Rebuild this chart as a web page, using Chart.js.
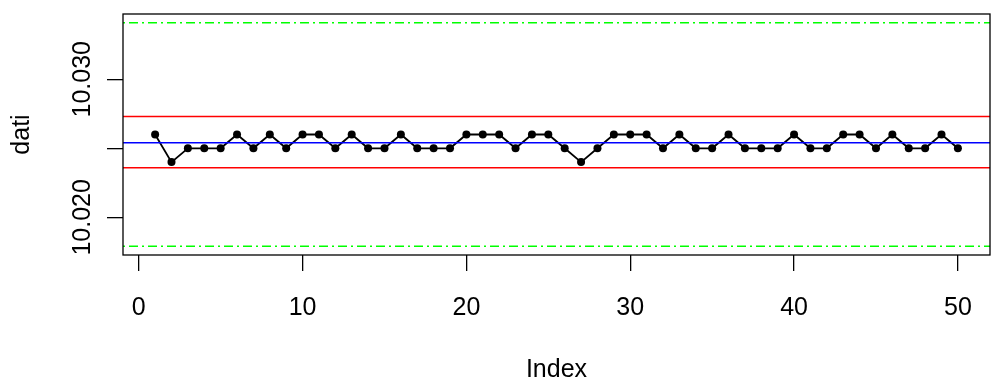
<!DOCTYPE html>
<html>
<head>
<meta charset="utf-8">
<script src="https://cdn.jsdelivr.net/npm/chart.js@4/dist/chart.umd.min.js"></script>
<style>
  html, body { margin: 0; padding: 0; background: #fff; }
  #wrap { width: 994px; height: 383px; position: relative; }
</style>
</head>
<body>
<div id="wrap"><canvas id="chart"></canvas></div>
<script>
// measurements, one per sample index
const dati = [
  10.026, 10.024, 10.025, 10.025, 10.025, 10.026, 10.025, 10.026, 10.025, 10.026,
  10.026, 10.025, 10.026, 10.025, 10.025, 10.026, 10.025, 10.025, 10.025, 10.026,
  10.026, 10.026, 10.025, 10.026, 10.026, 10.025, 10.024, 10.025, 10.026, 10.026,
  10.026, 10.025, 10.026, 10.025, 10.025, 10.026, 10.025, 10.025, 10.025, 10.026,
  10.025, 10.025, 10.026, 10.026, 10.025, 10.026, 10.025, 10.025, 10.026, 10.025
];
const centerLine = 10.0254;
const controlLimits = [10.0273, 10.0236];
const specLimits = [10.0341, 10.0179];

const xTicks = [0, 10, 20, 30, 40, 50];
const yTicks = [10.020, 10.025, 10.030];
// middle label is skipped (no room between the other two)
const yTickLabels = ['10.020', '', '10.030'];

const xMin = -0.96, xMax = 51.96;
const yMin = 10.01727, yMax = 10.03473;

const FONT = '25px "Liberation Sans", Arial, sans-serif';

function hline(value, color, dash) {
  return {
    data: [{ x: xMin, y: value }, { x: xMax, y: value }],
    borderColor: color,
    borderWidth: 1.5,
    borderDash: dash || [],
    pointRadius: 0,
    showLine: true,
    order: 0
  };
}

// box, rotated y labels and axis titles
const frame = {
  id: 'frame',
  afterDraw(chart) {
    const ctx = chart.ctx;
    const a = chart.chartArea;
    const xs = chart.scales.x, ys = chart.scales.y;
    ctx.save();
    ctx.strokeStyle = '#000';
    ctx.lineWidth = 1.3;
    ctx.strokeRect(a.left, a.top, a.right - a.left, a.bottom - a.top);

    ctx.fillStyle = '#000';
    ctx.font = FONT;
    ctx.textAlign = 'center';
    ctx.textBaseline = 'middle';
    xTicks.forEach(v => ctx.fillText(String(v), xs.getPixelForValue(v), 308));
    ctx.fillText('Index', (a.left + a.right) / 2, 370);

    yTicks.forEach((v, i) => {
      if (!yTickLabels[i]) return;
      ctx.save();
      ctx.translate(83, ys.getPixelForValue(v));
      ctx.rotate(-Math.PI / 2);
      ctx.fillText(yTickLabels[i], 0, 0);
      ctx.restore();
    });
    ctx.save();
    ctx.translate(22, (a.top + a.bottom) / 2);
    ctx.rotate(-Math.PI / 2);
    ctx.fillText('dati', 0, 0);
    ctx.restore();
    ctx.restore();
  }
};

new Chart(document.getElementById('chart'), {
  type: 'scatter',
  data: {
    datasets: [
      {
        data: dati.map((v, i) => ({ x: i + 1, y: v })),
        borderColor: '#000',
        backgroundColor: '#000',
        borderWidth: 1.8,
        pointRadius: 4,
        pointBorderWidth: 0,
        showLine: true,
        order: 1
      },
      hline(centerLine, '#0000ff'),
      hline(controlLimits[0], '#ff0000'),
      hline(controlLimits[1], '#ff0000'),
      hline(specLimits[0], '#00ff00', [2, 4, 9, 4]),
      hline(specLimits[1], '#00ff00', [2, 4, 9, 4])
    ]
  },
  options: {
    responsive: true,
    maintainAspectRatio: false,
    animation: false,
    layout: { padding: { top: 14, right: 2, left: 0, bottom: 0 } },
    plugins: { legend: { display: false }, tooltip: { enabled: false } },
    scales: {
      x: {
        type: 'linear',
        min: xMin,
        max: xMax,
        afterBuildTicks: s => { s.ticks = xTicks.map(v => ({ value: v })); },
        afterFit: s => { s.height = 128; },
        ticks: { display: false },
        border: { display: false },
        grid: { drawOnChartArea: false, drawTicks: true, tickLength: 16, color: '#000', lineWidth: 1.3 }
      },
      y: {
        type: 'linear',
        min: yMin,
        max: yMax,
        afterBuildTicks: s => { s.ticks = yTicks.map(v => ({ value: v })); },
        afterFit: s => { s.width = 123; },
        ticks: { display: false },
        border: { display: false },
        grid: { drawOnChartArea: false, drawTicks: true, tickLength: 16, color: '#000', lineWidth: 1.3 }
      }
    }
  },
  plugins: [frame]
});
</script>
</body>
</html>
